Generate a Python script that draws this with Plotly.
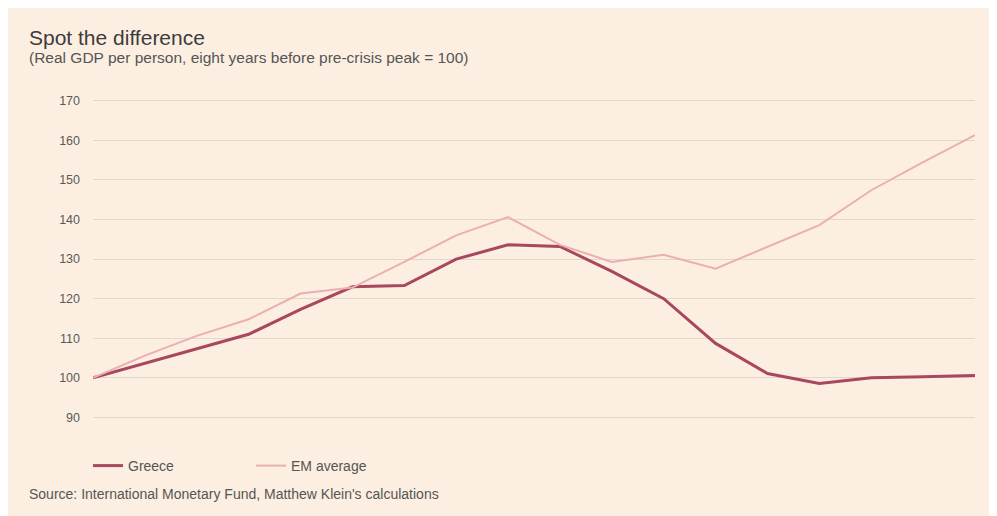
import plotly.graph_objects as go

periods = list(range(18))
greece = [100, 103.7, 107.4, 111, 117.3, 123, 123.3, 130, 133.6, 133.2, 126.9, 120, 108.7, 101.1, 98.6, 100, 100.3, 100.6]
em_average = [100, 105.6, 110.6, 114.8, 121.3, 122.8, 129.3, 136, 140.6, 133.6, 129.3, 131.1, 127.6, 133.1, 138.6, 147.4, 154.5, 161.3]
y_ticks = [90, 100, 110, 120, 130, 140, 150, 160, 170]

BG = "#FCEFE1"
W, H = 997, 516
L, R, T, B = 85, 30, 73, 67
pw, ph = W - L - R, H - T - B

def px_x(x):
    return (x - L) / pw

def px_y(y):
    return (H - B - y) / ph

fig = go.Figure()
fig.add_trace(go.Scatter(x=periods, y=greece, mode="lines", name="Greece",
                         line=dict(color="#A8475E", width=3)))
fig.add_trace(go.Scatter(x=periods, y=em_average, mode="lines", name="EM average",
                         line=dict(color="#EAB0AF", width=2)))

fig.update_layout(
    width=W, height=H,
    margin=dict(l=L, r=R, t=T, b=B),
    paper_bgcolor=BG, plot_bgcolor="rgba(0,0,0,0)",
    font=dict(family="Liberation Sans, Arial, sans-serif", color="#555555", size=13),
    showlegend=True,
    legend=dict(orientation="h", x=px_x(80), xanchor="left", y=px_y(458), yanchor="middle",
                bgcolor="rgba(0,0,0,0)", font=dict(size=14, color="#555555"),
                entrywidth=118, entrywidthmode="pixels", itemwidth=30),
    xaxis=dict(range=[0, 17], showgrid=False, zeroline=False, showticklabels=False,
               ticks="", showline=False, fixedrange=True),
    yaxis=dict(range=[80, 175], tickvals=y_ticks, ticktext=[str(v) for v in y_ticks],
               showgrid=True, gridcolor="#E2D7CB", gridwidth=1, zeroline=False,
               showline=False, ticks="", ticklabelstandoff=12,
               tickfont=dict(size=12.5, color="#5A5A5A")),
    annotations=[
        dict(text="Spot the difference", xref="paper", yref="paper", x=px_x(19), y=px_y(29),
             xanchor="left", yanchor="middle", showarrow=False,
             font=dict(size=21, color="#3C3C3C")),
        dict(text="(Real GDP per person, eight years before pre-crisis peak = 100)", xref="paper", yref="paper",
             x=px_x(19), y=px_y(50), xanchor="left", yanchor="middle", showarrow=False,
             font=dict(size=15.5, color="#555555")),
        dict(text="Source: International Monetary Fund, Matthew Klein's calculations", xref="paper", yref="paper",
             x=px_x(19), y=px_y(486), xanchor="left", yanchor="middle", showarrow=False,
             font=dict(size=14, color="#555555")),
    ],
)

fig.write_html("out.html")
